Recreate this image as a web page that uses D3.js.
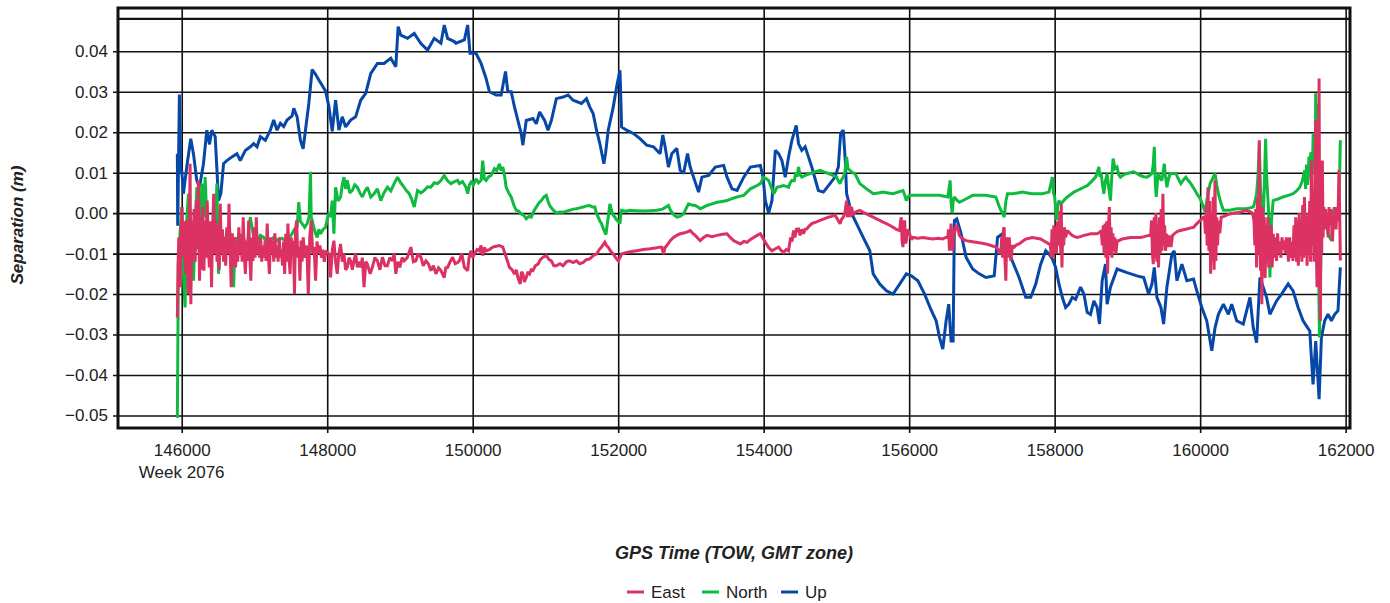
<!DOCTYPE html>
<html>
<head>
<meta charset="utf-8">
<script src="https://cdn.jsdelivr.net/npm/d3@7"></script>
<style>
body { margin: 0; background: #fff; }
text { font-family: Arial, "Liberation Sans", sans-serif; fill: #222; }
</style>
</head>
<body>
<svg id="drawing_region"></svg>
<script>
// [GPS time of week (s), separation (m)]
const east = [
[145940,-0.0258],[145950,-0.0126],[145960,-0.0060],[145975,-0.0183],[145990,-0.0040],[146005,0.0015],[146020,-0.0110],
[146035,-0.0020],[146050,-0.0150],[146065,-0.0018],[146080,-0.0130],[146092,-0.0200],[146105,-0.0040],[146115,0.0122],
[146125,-0.0225],[146140,-0.0018],[146155,-0.0118],[146170,0.0010],[146185,-0.0120],[146200,0.0031],[146215,-0.0090],
[146230,0.0081],[146245,-0.0167],[146260,-0.0010],[146275,-0.0140],[146290,0.0015],[146305,-0.0142],[146320,-0.0018],
[146335,-0.0110],[146350,0.0031],[146365,-0.0080],[146380,-0.0134],[146395,-0.0020],[146410,-0.0183],[146425,-0.0030],
[146440,0.0048],[146455,-0.0101],[146470,-0.0018],[146485,-0.0120],[146500,-0.0030],[146515,-0.0140],[146530,0.0023],
[146545,-0.0101],[146560,-0.0040],[146575,-0.0120],[146590,-0.0060],[146605,-0.0130],[146620,-0.0035],[146635,-0.0100],
[146650,0.0023],[146665,-0.0090],[146680,-0.0183],[146695,-0.0050],[146710,-0.0130],[146725,-0.0060],[146740,-0.0134],
[146755,-0.0070],[146770,-0.0120],[146785,-0.0035],[146800,-0.0101],[146815,-0.0051],[146830,-0.0120],[146845,-0.0010],
[146860,-0.0101],[146875,-0.0150],[146890,-0.0068],[146905,-0.0118],[146920,-0.0018],[146935,-0.0100],[146950,-0.0167],
[146965,-0.0060],[146980,-0.0118],[146995,-0.0035],[147010,-0.0110],[147025,-0.0010],[147040,-0.0101],[147055,-0.0070],
[147070,-0.0110],[147085,-0.0060],[147100,-0.0120],[147115,-0.0080],[147130,-0.0110],[147145,-0.0070],[147160,-0.0118],
[147175,-0.0026],[147190,-0.0100],[147205,-0.0150],[147220,-0.0060],[147235,-0.0101],[147250,-0.0068],[147265,-0.0120],
[147280,-0.0050],[147295,-0.0110],[147310,-0.0080],[147325,-0.0120],[147340,-0.0060],[147355,-0.0110],[147370,-0.0090],
[147385,-0.0130],[147400,-0.0070],[147415,-0.0150],[147430,-0.0051],[147445,-0.0120],[147460,-0.0026],[147475,-0.0110],
[147490,-0.0150],[147505,-0.0060],[147520,-0.0101],[147535,-0.0068],[147550,-0.0200],[147565,-0.0040],[147580,-0.0018],
[147595,-0.0110],[147610,-0.0084],[147625,-0.0167],[147640,-0.0068],[147655,-0.0120],[147670,-0.0060],[147685,-0.0093],
[147700,-0.0110],[147720,-0.0080],[147740,-0.0200],[147760,-0.0060],[147780,-0.0018],[147800,-0.0100],[147820,-0.0084],
[147840,-0.0167],[147860,-0.0070],[147880,-0.0100],[147900,-0.0080],[147920,-0.0110],[147940,-0.0090],[147960,-0.0120],
[147980,-0.0093],[148023,-0.0101],[148046,-0.0159],[148070,-0.0090],[148092,-0.0068],[148115,-0.0120],[148138,-0.0150],
[148160,-0.0100],[148184,-0.0076],[148207,-0.0120],[148230,-0.0101],[148253,-0.0140],[148276,-0.0134],[148300,-0.0110],
[148322,-0.0118],[148345,-0.0140],[148368,-0.0118],[148391,-0.0100],[148414,-0.0134],[148437,-0.0120],[148460,-0.0134],
[148483,-0.0110],[148506,-0.0183],[148530,-0.0120],[148552,-0.0126],[148590,-0.0150],[148621,-0.0134],[148655,-0.0110],
[148690,-0.0118],[148725,-0.0140],[148759,-0.0109],[148795,-0.0130],[148828,-0.0130],[148860,-0.0110],[148897,-0.0118],
[148920,-0.0100],[148943,-0.0150],[148970,-0.0120],[148998,-0.0134],[149030,-0.0110],[149058,-0.0118],[149100,-0.0110],
[149150,-0.0084],[149185,-0.0120],[149219,-0.0118],[149250,-0.0100],[149288,-0.0109],[149320,-0.0130],[149357,-0.0118],
[149390,-0.0125],[149426,-0.0142],[149460,-0.0130],[149495,-0.0150],[149530,-0.0135],[149563,-0.0142],[149609,-0.0159],
[149630,-0.0135],[149655,-0.0134],[149690,-0.0120],[149724,-0.0109],[149760,-0.0125],[149793,-0.0122],[149816,-0.0118],
[149850,-0.0100],[149885,-0.0134],[149931,-0.0142],[149950,-0.0110],[149977,-0.0093],[150000,-0.0110],[150023,-0.0101],
[150060,-0.0090],[150092,-0.0093],[150115,-0.0080],[150138,-0.0105],[150160,-0.0085],[150184,-0.0093],[150230,-0.0090],
[150276,-0.0084],[150322,-0.0082],[150368,-0.0080],[150414,-0.0084],[150460,-0.0109],[150506,-0.0134],[150540,-0.0140],
[150575,-0.0150],[150600,-0.0140],[150621,-0.0159],[150653,-0.0175],[150670,-0.0145],[150690,-0.0150],[150710,-0.0170],
[150736,-0.0159],[150760,-0.0145],[150782,-0.0150],[150805,-0.0140],[150828,-0.0142],[150860,-0.0130],[150897,-0.0126],
[150930,-0.0115],[150966,-0.0109],[151012,-0.0105],[151050,-0.0115],[151081,-0.0118],[151115,-0.0130],[151150,-0.0130],
[151200,-0.0125],[151242,-0.0130],[151290,-0.0120],[151334,-0.0118],[151380,-0.0122],[151426,-0.0118],[151470,-0.0125],
[151518,-0.0122],[151560,-0.0115],[151610,-0.0113],[151655,-0.0105],[151702,-0.0101],[151740,-0.0090],[151771,-0.0084],
[151817,-0.0072],[151840,-0.0080],[151863,-0.0084],[151900,-0.0095],[151932,-0.0101],[151965,-0.0110],[152001,-0.0118],
[152025,-0.0110],[152047,-0.0101],[152116,-0.0097],[152185,-0.0095],[152254,-0.0093],[152346,-0.0090],[152438,-0.0088],
[152510,-0.0086],[152576,-0.0084],[152600,-0.0084],[152622,-0.0101],[152645,-0.0085],[152668,-0.0080],[152715,-0.0068],
[152760,-0.0060],[152805,-0.0055],[152852,-0.0051],[152900,-0.0049],[152944,-0.0047],[152990,-0.0043],[153025,-0.0050],
[153059,-0.0055],[153095,-0.0062],[153128,-0.0068],[153175,-0.0060],[153220,-0.0055],[153290,-0.0058],[153358,-0.0055],
[153430,-0.0052],[153496,-0.0051],[153540,-0.0060],[153588,-0.0068],[153635,-0.0072],[153680,-0.0076],[153726,-0.0070],
[153772,-0.0072],[153818,-0.0065],[153863,-0.0060],[153910,-0.0055],[153954,-0.0051],[153990,-0.0062],[154023,-0.0072],
[154068,-0.0085],[154114,-0.0093],[154160,-0.0088],[154205,-0.0084],[154240,-0.0092],[154274,-0.0097],[154310,-0.0090],
[154342,-0.0093],[154370,-0.0060],[154390,-0.0070],[154410,-0.0043],[154430,-0.0060],[154450,-0.0040],[154479,-0.0039],
[154500,-0.0055],[154525,-0.0040],[154547,-0.0051],[154570,-0.0040],[154593,-0.0039],[154625,-0.0032],[154661,-0.0026],
[154718,-0.0022],[154775,-0.0018],[154830,-0.0014],[154889,-0.0010],[154935,-0.0008],[154980,-0.0005],[155015,-0.0015],
[155049,-0.0026],[155070,-0.0015],[155094,-0.0010],[155115,0.0000],[155140,0.0031],[155150,-0.0010],[155163,-0.0002],
[155180,0.0020],[155195,-0.0010],[155208,0.0015],[155230,-0.0005],[155254,0.0002],[155290,0.0005],[155322,0.0007],
[155368,0.0002],[155413,-0.0002],[155460,-0.0006],[155505,-0.0010],[155550,-0.0014],[155596,-0.0018],[155640,-0.0022],
[155687,-0.0026],[155730,-0.0030],[155778,-0.0035],[155825,-0.0040],[155870,-0.0043],[155881,-0.0020],[155892,-0.0010],
[155903,-0.0070],[155915,-0.0084],[155926,-0.0030],[155938,-0.0018],[155950,-0.0075],[155961,-0.0068],[155980,-0.0040],
[156006,-0.0051],[156030,-0.0065],[156052,-0.0060],[156120,-0.0062],[156189,-0.0060],[156255,-0.0062],[156325,-0.0064],
[156395,-0.0062],[156462,-0.0064],[156500,-0.0060],[156530,-0.0060],[156542,-0.0040],[156553,-0.0093],[156565,-0.0060],
[156576,-0.0026],[156588,-0.0080],[156599,-0.0093],[156611,-0.0040],[156622,-0.0051],[156645,-0.0030],[156667,-0.0035],
[156690,-0.0055],[156713,-0.0060],[156750,-0.0065],[156782,-0.0068],[156850,-0.0070],[156918,-0.0072],[156985,-0.0074],
[157055,-0.0076],[157125,-0.0080],[157192,-0.0084],[157226,-0.0090],[157260,-0.0101],[157272,-0.0060],[157284,-0.0110],
[157296,-0.0040],[157306,-0.0035],[157318,-0.0120],[157329,-0.0167],[157340,-0.0060],[157352,-0.0068],[157364,-0.0110],
[157376,-0.0060],[157397,-0.0118],[157420,-0.0080],[157443,-0.0084],[157475,-0.0078],[157511,-0.0076],[157555,-0.0070],
[157602,-0.0064],[157650,-0.0062],[157694,-0.0060],[157750,-0.0062],[157808,-0.0064],[157865,-0.0070],[157922,-0.0076],
[157940,-0.0076],[157952,-0.0109],[157964,-0.0040],[157976,-0.0110],[157988,-0.0030],[158000,-0.0090],[158012,-0.0035],
[158024,-0.0101],[158036,-0.0020],[158048,-0.0080],[158060,-0.0060],[158072,0.0005],[158084,-0.0100],[158091,0.0023],
[158100,-0.0134],[158112,-0.0035],[158124,-0.0080],[158136,-0.0035],[158150,-0.0060],[158174,-0.0043],[158210,-0.0050],
[158242,-0.0055],[158275,-0.0058],[158310,-0.0060],[158355,-0.0058],[158402,-0.0055],[158448,-0.0053],[158493,-0.0051],
[158540,-0.0051],[158584,-0.0051],[158620,-0.0047],[158640,-0.0043],[158655,-0.0080],[158668,-0.0030],[158680,-0.0101],
[158692,-0.0026],[158704,-0.0110],[158716,-0.0020],[158728,-0.0150],[158740,-0.0030],[158752,0.0015],[158764,-0.0100],
[158776,-0.0035],[158788,-0.0110],[158800,-0.0050],[158812,-0.0093],[158825,-0.0060],[158840,-0.0101],[158860,-0.0068],
[158881,-0.0068],[158927,-0.0064],[158985,-0.0062],[159041,-0.0060],[159110,-0.0060],[159178,-0.0060],[159235,-0.0058],
[159292,-0.0055],[159320,-0.0055],[159332,-0.0018],[159344,-0.0100],[159356,-0.0126],[159368,-0.0010],[159380,-0.0110],
[159392,0.0000],[159404,-0.0120],[159416,-0.0030],[159428,-0.0134],[159440,-0.0010],[159452,-0.0100],[159464,0.0010],
[159476,-0.0093],[159488,0.0048],[159500,-0.0080],[159512,-0.0030],[159524,-0.0093],[159540,-0.0051],[159556,-0.0084],
[159575,-0.0055],[159600,-0.0084],[159620,-0.0055],[159650,-0.0050],[159690,-0.0045],[159726,-0.0043],[159770,-0.0041],
[159817,-0.0039],[159860,-0.0037],[159909,-0.0035],[159955,-0.0026],[160000,-0.0018],[160030,-0.0014],[160046,-0.0010],
[160060,-0.0010],[160072,-0.0051],[160084,0.0020],[160096,-0.0080],[160108,0.0064],[160120,-0.0093],[160132,0.0030],
[160144,-0.0150],[160156,0.0000],[160168,-0.0120],[160180,0.0040],[160192,-0.0140],[160204,0.0081],[160216,-0.0118],
[160228,-0.0010],[160240,-0.0080],[160252,-0.0018],[160270,-0.0050],[160290,-0.0010],[160330,-0.0008],[160365,-0.0005],
[160410,-0.0002],[160456,0.0000],[160500,0.0001],[160548,0.0002],[160595,0.0005],[160639,0.0007],[160675,0.0004],
[160707,0.0002],[160725,-0.0005],[160740,-0.0018],[160752,-0.0080],[160764,0.0010],[160776,-0.0134],[160788,0.0040],
[160800,-0.0100],[160813,0.0180],[160822,-0.0060],[160831,-0.0142],[160840,-0.0020],[160848,-0.0225],[160858,0.0015],
[160870,-0.0110],[160882,-0.0010],[160894,-0.0160],[160906,-0.0030],[160918,-0.0120],[160930,-0.0010],[160942,-0.0134],
[160954,-0.0040],[160966,-0.0110],[160978,-0.0030],[160990,-0.0134],[161005,-0.0051],[161020,-0.0110],[161035,-0.0060],
[161050,-0.0118],[161065,-0.0050],[161080,-0.0100],[161095,-0.0070],[161110,-0.0110],[161125,-0.0060],[161140,-0.0090],
[161155,-0.0068],[161170,-0.0100],[161185,-0.0060],[161200,-0.0080],[161215,-0.0120],[161230,-0.0060],[161245,-0.0110],
[161260,-0.0070],[161275,-0.0118],[161290,-0.0030],[161302,-0.0110],[161314,-0.0010],[161326,-0.0120],[161338,-0.0018],
[161350,-0.0130],[161362,0.0000],[161374,-0.0101],[161386,-0.0020],[161398,-0.0120],[161410,0.0020],[161422,-0.0110],
[161434,0.0040],[161446,-0.0100],[161458,-0.0010],[161470,-0.0130],[161482,0.0000],[161494,-0.0101],[161506,0.0030],
[161518,-0.0120],[161530,0.0130],[161542,-0.0080],[161554,0.0040],[161566,-0.0120],[161578,0.0080],[161589,0.0230],
[161598,-0.0100],[161607,-0.0183],[161616,0.0100],[161625,-0.0050],[161635,0.0333],[161644,-0.0150],[161653,-0.0266],
[161662,0.0050],[161671,-0.0100],[161680,0.0130],[161690,-0.0060],[161700,0.0015],[161712,-0.0040],[161724,0.0010],
[161736,-0.0035],[161748,0.0000],[161760,-0.0060],[161772,0.0015],[161784,-0.0030],[161796,0.0010],[161808,-0.0026],
[161820,-0.0070],[161832,0.0005],[161844,-0.0030],[161856,0.0015],[161868,-0.0040],[161880,0.0010],[161895,-0.0020],
[161908,0.0106],[161918,0.0000],[161927,-0.0117]
];
const north = [
[145940,-0.0506],[145954,-0.0126],[145977,-0.0050],[146000,0.0015],[146023,-0.0150],[146046,-0.0233],[146069,-0.0017],
[146092,0.0048],[146115,-0.0002],[146140,-0.0090],[146161,-0.0167],[146184,-0.0050],[146207,0.0064],[146225,-0.0040],
[146244,-0.0101],[146260,-0.0020],[146276,0.0073],[146300,-0.0010],[146322,0.0089],[146345,-0.0018],[146370,-0.0060],
[146391,-0.0101],[146415,-0.0050],[146437,-0.0035],[146460,-0.0080],[146483,0.0073],[146506,-0.0150],[146530,-0.0060],
[146552,-0.0043],[146575,-0.0080],[146598,-0.0068],[146630,-0.0040],[146667,-0.0051],[146690,-0.0100],[146713,-0.0183],
[146735,-0.0060],[146759,-0.0068],[146800,-0.0055],[146851,-0.0060],[146875,-0.0090],[146897,-0.0118],[146920,-0.0040],
[146943,-0.0010],[146990,-0.0060],[147035,-0.0068],[147080,-0.0055],[147127,-0.0060],[147170,-0.0075],[147218,-0.0068],
[147265,-0.0060],[147310,-0.0068],[147380,-0.0062],[147448,-0.0072],[147480,-0.0060],[147517,-0.0051],[147550,-0.0040],
[147586,-0.0035],[147609,0.0027],[147630,-0.0020],[147655,-0.0026],[147690,-0.0035],[147724,-0.0026],[147750,-0.0010],
[147770,0.0102],[147780,-0.0010],[147793,-0.0018],[147830,-0.0045],[147862,-0.0060],[147885,-0.0040],[147908,-0.0051],
[147945,-0.0040],[147977,-0.0035],[148000,-0.0015],[148023,0.0000],[148045,-0.0010],[148069,0.0031],[148092,-0.0051],
[148115,0.0064],[148150,0.0030],[148184,0.0040],[148207,0.0070],[148230,0.0089],[148253,0.0060],[148276,0.0081],
[148310,0.0050],[148345,0.0056],[148380,0.0070],[148414,0.0064],[148450,0.0050],[148483,0.0040],[148520,0.0055],
[148552,0.0064],[148600,0.0040],[148644,0.0048],[148690,0.0060],[148736,0.0031],[148780,0.0050],[148828,0.0064],
[148875,0.0055],[148920,0.0073],[148966,0.0089],[149010,0.0075],[149058,0.0064],[149090,0.0055],[149127,0.0048],
[149160,0.0035],[149196,0.0015],[149242,0.0056],[149290,0.0050],[149334,0.0056],[149380,0.0065],[149426,0.0064],
[149470,0.0075],[149517,0.0073],[149560,0.0080],[149609,0.0093],[149655,0.0080],[149701,0.0073],[149750,0.0078],
[149793,0.0081],[149816,0.0073],[149860,0.0078],[149908,0.0064],[149931,0.0048],[149955,0.0070],[149977,0.0077],
[150010,0.0070],[150046,0.0085],[150080,0.0075],[150115,0.0081],[150138,0.0130],[150160,0.0085],[150184,0.0081],
[150220,0.0090],[150253,0.0093],[150299,0.0110],[150330,0.0105],[150368,0.0122],[150390,0.0105],[150414,0.0114],
[150440,0.0090],[150460,0.0064],[150495,0.0050],[150529,0.0040],[150565,0.0020],[150598,0.0007],[150630,0.0005],
[150667,-0.0002],[150700,-0.0005],[150736,-0.0014],[150770,-0.0008],[150805,-0.0010],[150840,0.0005],[150874,0.0015],
[150910,0.0025],[150943,0.0031],[150980,0.0040],[151012,0.0044],[151035,0.0030],[151058,0.0019],[151105,0.0008],
[151150,0.0000],[151195,0.0003],[151242,0.0002],[151290,0.0005],[151334,0.0007],[151380,0.0010],[151426,0.0011],
[151470,0.0013],[151518,0.0015],[151565,0.0018],[151610,0.0019],[151645,0.0015],[151679,0.0015],[151700,0.0000],
[151725,-0.0010],[151750,-0.0020],[151771,-0.0026],[151800,-0.0040],[151831,-0.0053],[151848,-0.0030],[151863,-0.0010],
[151886,0.0023],[151910,0.0005],[151932,-0.0005],[151955,-0.0010],[151978,-0.0017],[152000,-0.0020],[152024,-0.0026],
[152035,-0.0005],[152047,0.0007],[152100,0.0005],[152161,0.0007],[152250,0.0006],[152346,0.0005],[152440,0.0006],
[152530,0.0007],[152610,0.0010],[152691,0.0019],[152715,0.0008],[152737,0.0002],[152770,-0.0005],[152806,-0.0010],
[152850,-0.0008],[152898,-0.0002],[152930,0.0010],[152967,0.0023],[153010,0.0020],[153059,0.0019],[153095,0.0015],
[153128,0.0011],[153175,0.0015],[153220,0.0019],[153290,0.0023],[153358,0.0027],[153430,0.0029],[153496,0.0031],
[153565,0.0036],[153634,0.0040],[153680,0.0042],[153726,0.0044],[153770,0.0052],[153818,0.0060],[153885,0.0066],
[153954,0.0073],[153975,0.0080],[154000,0.0089],[154035,0.0085],[154068,0.0081],[154100,0.0065],[154137,0.0048],
[154160,0.0055],[154182,0.0064],[154230,0.0066],[154274,0.0068],[154310,0.0066],[154342,0.0064],[154365,0.0075],
[154388,0.0081],[154420,0.0080],[154440,0.0100],[154460,0.0090],[154479,0.0114],[154500,0.0095],[154524,0.0089],
[154580,0.0094],[154638,0.0098],[154705,0.0102],[154775,0.0106],[154830,0.0102],[154889,0.0098],[154945,0.0094],
[155003,0.0089],[155025,0.0080],[155049,0.0073],[155070,0.0082],[155094,0.0089],[155115,0.0100],[155140,0.0139],
[155160,0.0110],[155185,0.0106],[155220,0.0100],[155254,0.0098],[155290,0.0085],[155322,0.0073],[155370,0.0066],
[155413,0.0060],[155460,0.0054],[155505,0.0048],[155575,0.0050],[155641,0.0052],[155710,0.0050],[155778,0.0048],
[155845,0.0052],[155915,0.0056],[155938,0.0045],[155961,0.0031],[155985,0.0040],[156006,0.0044],[156120,0.0044],
[156257,0.0044],[156417,0.0044],[156480,0.0042],[156530,0.0040],[156548,0.0060],[156563,0.0081],[156575,0.0030],
[156590,0.0000],[156605,0.0030],[156622,0.0040],[156655,0.0032],[156690,0.0027],[156780,0.0035],[156873,0.0044],
[156960,0.0044],[157055,0.0044],[157125,0.0042],[157192,0.0040],[157230,0.0020],[157260,0.0007],[157285,0.0000],
[157306,-0.0010],[157330,0.0030],[157352,0.0048],[157420,0.0048],[157490,0.0050],[157557,0.0052],[157625,0.0050],
[157694,0.0048],[157760,0.0048],[157831,0.0048],[157875,0.0050],[157922,0.0052],[157945,0.0070],[157968,0.0089],
[157985,0.0050],[158000,0.0040],[158014,0.0010],[158027,-0.0018],[158043,0.0020],[158059,0.0031],[158080,0.0025],
[158105,0.0027],[158140,0.0034],[158174,0.0040],[158220,0.0046],[158265,0.0052],[158310,0.0056],[158356,0.0060],
[158400,0.0064],[158447,0.0068],[158505,0.0078],[158562,0.0089],[158585,0.0100],[158607,0.0114],[158623,0.0090],
[158639,0.0098],[158658,0.0070],[158676,0.0048],[158698,0.0080],[158721,0.0098],[158745,0.0060],[158767,0.0031],
[158785,0.0090],[158804,0.0135],[158830,0.0110],[158858,0.0114],[158880,0.0095],[158904,0.0089],[158950,0.0095],
[158995,0.0098],[159040,0.0100],[159087,0.0102],[159130,0.0098],[159178,0.0093],[159225,0.0090],[159270,0.0089],
[159305,0.0093],[159338,0.0098],[159355,0.0120],[159370,0.0164],[159384,0.0070],[159397,0.0040],[159413,0.0080],
[159429,0.0098],[159452,0.0085],[159475,0.0081],[159490,0.0100],[159507,0.0122],[159525,0.0090],[159543,0.0064],
[159565,0.0085],[159589,0.0098],[159630,0.0098],[159667,0.0098],[159700,0.0085],[159735,0.0073],[159770,0.0082],
[159804,0.0089],[159840,0.0080],[159872,0.0073],[159900,0.0065],[159931,0.0056],[159965,0.0045],[160000,0.0036],
[160035,0.0020],[160068,0.0002],[160100,0.0040],[160137,0.0073],[160170,0.0085],[160205,0.0098],[160228,0.0070],
[160251,0.0048],[160285,0.0025],[160320,0.0007],[160365,0.0007],[160411,0.0007],[160455,0.0009],[160502,0.0011],
[160570,0.0011],[160639,0.0011],[160685,0.0013],[160731,0.0015],[160755,0.0030],[160776,0.0048],[160795,0.0090],
[160813,0.0172],[160830,0.0060],[160845,0.0015],[160857,0.0040],[160867,-0.0017],[160884,0.0080],[160900,0.0184],
[160912,0.0100],[160922,0.0064],[160940,0.0010],[160959,-0.0159],[160980,-0.0020],[161004,0.0031],[161070,0.0035],
[161141,0.0040],[161210,0.0044],[161278,0.0048],[161325,0.0055],[161370,0.0064],[161405,0.0080],[161438,0.0106],
[161450,0.0060],[161462,0.0120],[161474,0.0070],[161484,0.0081],[161496,0.0140],[161508,0.0090],[161520,0.0150],
[161530,0.0147],[161542,0.0100],[161554,0.0197],[161566,0.0120],[161575,0.0197],[161582,0.0150],[161589,0.0296],
[161598,0.0150],[161607,0.0122],[161616,-0.0101],[161621,0.0271],[161630,-0.0160],[161640,-0.0307],[161650,-0.0200],
[161667,-0.0035],[161690,0.0010],[161712,0.0007],[161735,-0.0020],[161758,-0.0051],[161780,-0.0060],[161804,-0.0068],
[161822,-0.0020],[161841,0.0015],[161856,-0.0010],[161872,-0.0017],[161895,-0.0010],[161912,0.0050],[161927,0.0180]
];
const up = [
[145940,0.0147],[145945,-0.0031],[145968,0.0293],[145986,0.0100],[146000,0.0106],[146023,0.0048],[146069,0.0114],
[146124,0.0184],[146161,0.0147],[146207,0.0081],[146244,0.0064],[146299,0.0122],[146345,0.0205],[146382,0.0170],
[146414,0.0205],[146460,0.0189],[146506,0.0031],[146538,0.0048],[146575,0.0122],[146621,0.0130],[146690,0.0139],
[146759,0.0147],[146805,0.0130],[146874,0.0155],[146943,0.0164],[146989,0.0172],[147035,0.0164],[147081,0.0189],
[147150,0.0180],[147218,0.0205],[147264,0.0230],[147310,0.0205],[147356,0.0222],[147402,0.0214],[147448,0.0230],
[147517,0.0240],[147540,0.0259],[147586,0.0238],[147632,0.0180],[147669,0.0159],[147701,0.0205],[147747,0.0271],
[147793,0.0355],[147839,0.0343],[147908,0.0322],[147977,0.0302],[148023,0.0264],[148069,0.0202],[148115,0.0279],
[148161,0.0205],[148207,0.0238],[148253,0.0213],[148322,0.0230],[148391,0.0238],[148460,0.0279],[148529,0.0296],
[148598,0.0345],[148690,0.0370],[148782,0.0370],[148874,0.0383],[148943,0.0362],[148975,0.0461],[149012,0.0440],
[149104,0.0432],[149196,0.0444],[149288,0.0419],[149380,0.0403],[149471,0.0432],[149563,0.0420],[149609,0.0465],
[149655,0.0432],[149747,0.0424],[149770,0.0420],[149885,0.0428],[149931,0.0465],[149963,0.0395],[150046,0.0395],
[150115,0.0370],[150184,0.0333],[150230,0.0300],[150322,0.0292],[150391,0.0292],[150451,0.0350],[150483,0.0300],
[150529,0.0300],[150575,0.0262],[150621,0.0229],[150667,0.0197],[150690,0.0168],[150736,0.0229],[150828,0.0234],
[150874,0.0221],[150920,0.0250],[150989,0.0229],[151035,0.0205],[151081,0.0229],[151150,0.0283],[151242,0.0287],
[151311,0.0292],[151380,0.0279],[151495,0.0271],[151564,0.0283],[151610,0.0262],[151656,0.0246],[151702,0.0205],
[151748,0.0172],[151803,0.0122],[151826,0.0147],[151863,0.0205],[151932,0.0262],[151978,0.0312],[152024,0.0353],
[152033,0.0304],[152047,0.0213],[152116,0.0205],[152208,0.0197],[152300,0.0184],[152392,0.0168],[152484,0.0164],
[152576,0.0147],[152613,0.0193],[152645,0.0164],[152691,0.0114],[152737,0.0147],[152806,0.0160],[152852,0.0106],
[152898,0.0098],[152953,0.0147],[152990,0.0114],[153036,0.0089],[153105,0.0052],[153151,0.0089],[153243,0.0093],
[153335,0.0114],[153450,0.0118],[153496,0.0089],[153565,0.0060],[153634,0.0056],[153681,0.0073],[153726,0.0089],
[153818,0.0114],[153954,0.0118],[153991,0.0089],[154023,0.0031],[154068,0.0000],[154114,0.0031],[154160,0.0155],
[154205,0.0147],[154251,0.0130],[154296,0.0089],[154342,0.0139],[154388,0.0180],[154447,0.0217],[154479,0.0172],
[154524,0.0155],[154570,0.0164],[154616,0.0139],[154661,0.0114],[154752,0.0056],[154821,0.0052],[154912,0.0073],
[154980,0.0089],[155026,0.0114],[155058,0.0197],[155094,0.0205],[155122,0.0130],[155140,0.0048],[155208,0.0000],
[155277,-0.0026],[155368,-0.0060],[155459,-0.0093],[155505,-0.0150],[155596,-0.0175],[155687,-0.0192],[155778,-0.0200],
[155870,-0.0175],[155961,-0.0150],[156029,-0.0155],[156120,-0.0167],[156212,-0.0200],[156303,-0.0240],[156371,-0.0266],
[156417,-0.0307],[156462,-0.0336],[156508,-0.0266],[156544,-0.0225],[156576,-0.0316],[156604,-0.0316],[156622,-0.0018],
[156654,-0.0014],[156713,-0.0050],[156782,-0.0109],[156873,-0.0138],[156964,-0.0150],[157055,-0.0159],[157169,-0.0155],
[157215,-0.0060],[157283,-0.0051],[157329,-0.0084],[157397,-0.0109],[157511,-0.0159],[157602,-0.0208],[157671,-0.0208],
[157740,-0.0175],[157808,-0.0126],[157877,-0.0093],[157922,-0.0101],[157968,-0.0113],[158014,-0.0134],[158059,-0.0175],
[158105,-0.0208],[158151,-0.0233],[158196,-0.0225],[158242,-0.0208],[158288,-0.0213],[158356,-0.0183],[158402,-0.0200],
[158447,-0.0245],[158493,-0.0250],[158539,-0.0217],[158584,-0.0233],[158616,-0.0274],[158653,-0.0167],[158699,-0.0126],
[158721,-0.0225],[158767,-0.0183],[158858,-0.0138],[158995,-0.0147],[159132,-0.0155],[159224,-0.0159],[159292,-0.0200],
[159338,-0.0175],[159370,-0.0134],[159406,-0.0208],[159461,-0.0233],[159498,-0.0274],[159543,-0.0183],[159612,-0.0101],
[159644,-0.0093],[159680,-0.0167],[159749,-0.0126],[159817,-0.0167],[159909,-0.0163],[159954,-0.0192],[160023,-0.0233],
[160091,-0.0266],[160160,-0.0340],[160205,-0.0283],[160251,-0.0250],[160320,-0.0225],[160388,-0.0250],[160434,-0.0225],
[160502,-0.0266],[160593,-0.0274],[160685,-0.0208],[160730,-0.0283],[160776,-0.0320],[160822,-0.0159],[160867,-0.0183],
[160913,-0.0208],[160959,-0.0250],[161050,-0.0217],[161119,-0.0200],[161210,-0.0175],[161278,-0.0192],[161347,-0.0233],
[161415,-0.0266],[161507,-0.0291],[161552,-0.0423],[161589,-0.0316],[161635,-0.0460],[161667,-0.0307],[161712,-0.0266],
[161758,-0.0250],[161804,-0.0266],[161850,-0.0250],[161895,-0.0241],[161927,-0.0134]
];

const seriesNames = ['East', 'North', 'Up'];
const seriesColors = ['#dc3163', '#0fbb3f', '#0747a8'];
const xTicks = [146000, 148000, 150000, 152000, 154000, 156000, 158000, 160000, 162000];
const yTicks = [-0.05, -0.04, -0.03, -0.02, -0.01, 0.00, 0.01, 0.02, 0.03, 0.04];
const weekLabel = 'Week 2076';
const xTitle = 'GPS Time (TOW, GMT zone)';
const yTitle = 'Separation (m)';

const width = 1390, height = 603;
const margin = {top: 8, left: 118, right: 40, bottom: 175};
const innerW = width - margin.left - margin.right;
const innerH = height - margin.top - margin.bottom;

const svg = d3.select('#drawing_region')
    .attr('width', width)
    .attr('height', height);

const chart = svg.append('g')
    .attr('transform', `translate(${margin.left}, ${margin.top})`);

const xscale = d3.scaleLinear().domain([145124, 162060]).range([0, innerW]);
const yscale = d3.scaleLinear().domain([-0.0531, 0.0507]).range([innerH, 0]);

// grid + ticks
const yaxis = d3.axisLeft(yscale)
    .tickValues(yTicks)
    .tickFormat(d3.format('.2f'))
    .tickSize(-(innerW + 5))
    .tickPadding(5);
const yaxis_group = chart.append('g')
    .attr('transform', 'translate(-5, 0)')
    .call(yaxis);

const xaxis = d3.axisBottom(xscale)
    .tickValues(xTicks)
    .tickFormat(d3.format('d'))
    .tickSize(-(innerH + 5))
    .tickPadding(11);
const xaxis_group = chart.append('g')
    .attr('transform', `translate(0, ${innerH + 5})`)
    .call(xaxis);

[yaxis_group, xaxis_group].forEach(g => {
    g.select('.domain').remove();
    g.selectAll('.tick line').attr('stroke', '#111').attr('stroke-width', 1.6);
    g.selectAll('.tick text')
        .style('font-size', '17px')
        .style('font-family', 'Arial, "Liberation Sans", sans-serif')
        .attr('fill', '#222');
});

xaxis_group.append('text')
    .attr('x', xscale(xTicks[0]))
    .attr('y', 45)
    .attr('text-anchor', 'middle')
    .style('font-size', '17px')
    .text(weekLabel);

// inner top line
chart.append('line')
    .attr('x1', 0).attr('x2', innerW)
    .attr('y1', yscale(0.048)).attr('y2', yscale(0.048))
    .attr('stroke', '#111').attr('stroke-width', 2.2);

// series
chart.append('clipPath').attr('id', 'clip')
    .append('rect').attr('width', innerW).attr('height', innerH);

const line = d3.line()
    .x(d => xscale(d[0]))
    .y(d => yscale(d[1]));

const seriesData = [up, north, east];
const order = [2, 1, 0];
chart.append('g').attr('clip-path', 'url(#clip)')
    .selectAll('path')
    .data(seriesData)
    .enter()
    .append('path')
    .attr('d', d => line(d))
    .attr('fill', 'none')
    .attr('stroke', (d, i) => seriesColors[order[i]])
    .attr('stroke-width', 3)
    .attr('stroke-linejoin', 'miter')
    .attr('stroke-miterlimit', 2);

// frame
chart.append('rect')
    .attr('width', innerW).attr('height', innerH)
    .attr('fill', 'none')
    .attr('stroke', '#111')
    .attr('stroke-width', 3);

// titles
svg.append('text')
    .attr('x', margin.left + innerW / 2)
    .attr('y', 559)
    .attr('text-anchor', 'middle')
    .style('font-size', '18px')
    .style('font-weight', 'bold')
    .style('font-style', 'italic')
    .text(xTitle);

svg.append('text')
    .attr('transform', 'rotate(-90)')
    .attr('x', -225)
    .attr('y', 23)
    .attr('text-anchor', 'middle')
    .style('font-size', '17px')
    .style('font-weight', 'bold')
    .style('font-style', 'italic')
    .text(yTitle);

// legend
const legendX = [627, 702, 781];
const legend = svg.append('g').attr('transform', 'translate(0, 592)');
const items = legend.selectAll('g')
    .data(seriesNames)
    .enter()
    .append('g')
    .attr('transform', (d, i) => `translate(${legendX[i]}, 0)`);
items.append('line')
    .attr('x1', 0).attr('x2', 17)
    .attr('stroke', (d, i) => seriesColors[i])
    .attr('stroke-width', 3);
items.append('text')
    .attr('x', 24)
    .attr('y', 6)
    .style('font-size', '17px')
    .text(d => d);
</script>
</body>
</html>
